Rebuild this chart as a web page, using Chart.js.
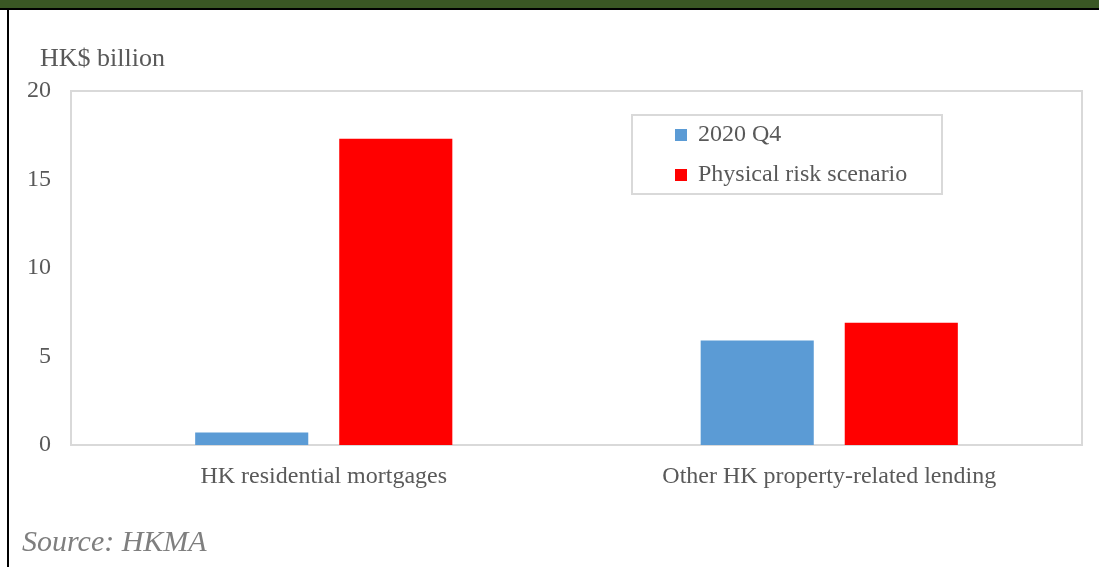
<!DOCTYPE html>
<html>
<head>
<meta charset="utf-8">
<script src="https://cdn.jsdelivr.net/npm/chart.js@4"></script>
<style>
body{margin:0;background:#fff;font-family:"Liberation Serif","Times New Roman",serif;}
#wrap{position:relative;width:1099px;height:567px;overflow:hidden;}
#band{position:absolute;left:0;top:0;width:1099px;height:8px;background:#3a5724;}
#rule{position:absolute;left:0;top:8px;width:1099px;height:2px;background:#000;}
#side{position:absolute;left:7px;top:8px;width:2px;height:559px;background:#000;}
#unit{position:absolute;left:40px;top:43px;font-size:26px;line-height:30px;color:#595959;}
#source{position:absolute;left:22px;top:524px;font-size:30px;line-height:34px;font-style:italic;color:#7f7f7f;}
canvas{position:absolute;left:0;top:0;}
</style>
</head>
<body>
<div id="wrap">
<canvas id="chart" width="1099" height="567"></canvas>
<div id="band"></div>
<div id="rule"></div>
<div id="side"></div>
<div id="unit">HK$ billion</div>
<div id="source">Source: HKMA</div>
</div>
<script>
const categories=["HK residential mortgages","Other HK property-related lending"]
const seriesNames=["2020 Q4","Physical risk scenario"]
const q4Values=[0.7,5.9]
const physicalValues=[17.3,6.9]
const yTicks=[0,5,10,15,20]

const textColor="#595959"
const lineColor="#d9d9d9"
const serif="'Liberation Serif','Times New Roman',serif"

// box round the plot area, then the legend inside it
const frame={
    id:"frame",
    beforeDatasetsDraw(chart){
        const a=chart.chartArea
        const ctx=chart.ctx
        ctx.save()
        ctx.strokeStyle=lineColor
        ctx.lineWidth=2
        ctx.strokeRect(a.left,a.top,a.right-a.left,a.bottom-a.top)
        ctx.restore()
    },
    afterDraw(chart){
        const ctx=chart.ctx
        ctx.save()
        ctx.strokeStyle=lineColor
        ctx.lineWidth=2
        ctx.strokeRect(632,115,310,79)
        ctx.font="24px "+serif
        ctx.textBaseline="middle"
        chart.data.datasets.forEach((ds,i)=>{
            const y=135+i*40
            ctx.fillStyle=ds.backgroundColor
            ctx.fillRect(675,y-6,12,12)
            ctx.fillStyle=textColor
            ctx.fillText(ds.label,698,y)
        })
        ctx.restore()
    }
}

new Chart(document.getElementById("chart"),{
    type:"bar",
    data:{
        labels:categories,
        datasets:[
            {
                label:seriesNames[0],
                data:q4Values,
                backgroundColor:"#5b9bd5",
                categoryPercentage:0.57,
                barPercentage:0.785
            },
            {
                label:seriesNames[1],
                data:physicalValues,
                backgroundColor:"#ff0000",
                categoryPercentage:0.57,
                barPercentage:0.785
            }
        ]
    },
    options:{
        responsive:false,
        animation:false,
        layout:{padding:{left:0,top:91,right:17,bottom:0}},
        plugins:{
            legend:{display:false},
            tooltip:{enabled:false}
        },
        scales:{
            x:{
                grid:{display:false,drawTicks:false},
                border:{display:false},
                ticks:{color:textColor,font:{family:serif,size:24},padding:17},
                afterFit(scale){scale.height=122}
            },
            y:{
                min:0,
                max:20,
                afterBuildTicks(scale){scale.ticks=yTicks.map(v=>({value:v}))},
                grid:{display:false,drawTicks:false},
                border:{display:false},
                ticks:{color:textColor,font:{family:serif,size:24,lineHeight:1.35},padding:20},
                afterFit(scale){scale.width=71}
            }
        }
    },
    plugins:[frame]
})
</script>
</body>
</html>
